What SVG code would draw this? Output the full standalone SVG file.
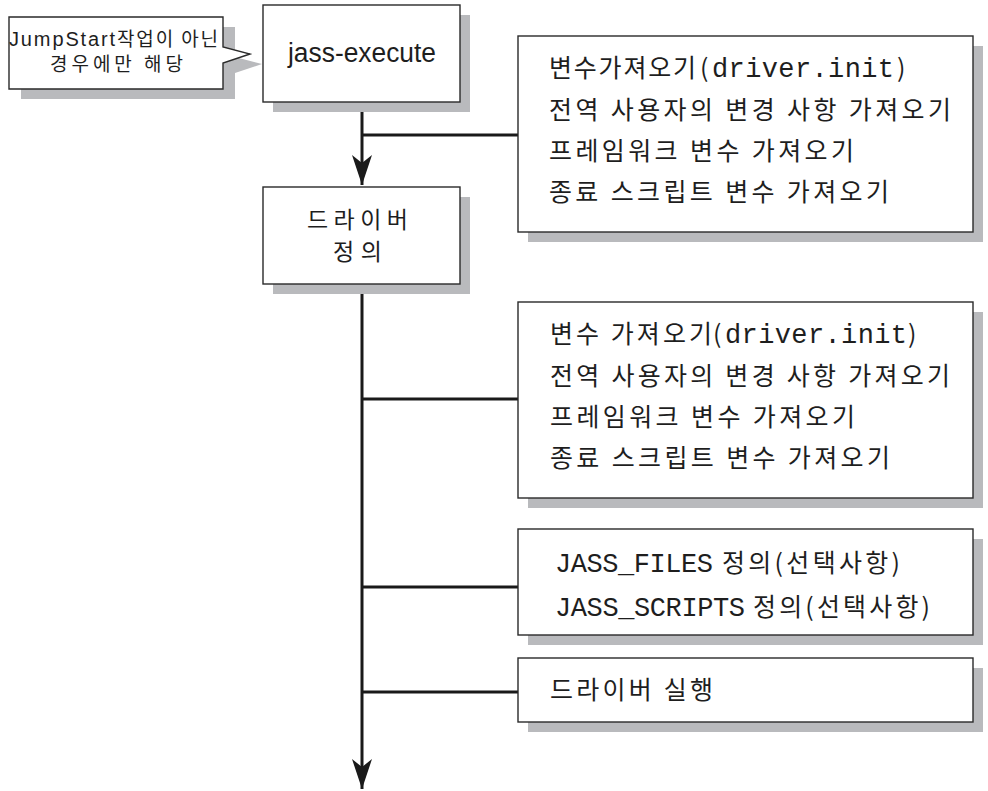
<svg xmlns="http://www.w3.org/2000/svg" width="988" height="791" viewBox="0 0 988 791">
<defs>
<style>
.shadow{fill:#b9babd;stroke:none}
.box{fill:#fff;stroke:#2a2a2a;stroke-width:1.4}
.conn{stroke:#1a1a1a;stroke-width:3;fill:none}
.ko{font-family:"Noto Sans CJK KR","Noto Sans",sans-serif;font-size:25px;fill:#1e1e1e}
.mono{font-family:"Liberation Mono",monospace;font-size:27px;fill:#1e1e1e}
.sans{font-family:"Liberation Sans",Arial,sans-serif;fill:#1e1e1e}
</style>
<marker id="arr" viewBox="0 0 30 20" markerUnits="userSpaceOnUse" markerWidth="30" markerHeight="20" refX="30" refY="10" orient="auto">
<path d="M0,0 L30,10 L0,20 L8,10 Z" fill="#1a1a1a"/>
</marker>
</defs>
<rect width="988" height="791" fill="#fff"/>

<g id="connectors">
<line class="conn" x1="362" y1="102" x2="362" y2="185" marker-end="url(#arr)"/>
<line class="conn" x1="362" y1="284" x2="362" y2="789" marker-end="url(#arr)"/>
<line class="conn" x1="362" y1="135" x2="518" y2="135"/>
<line class="conn" x1="362" y1="399" x2="518" y2="399"/>
<line class="conn" x1="362" y1="587" x2="518" y2="587"/>
<line class="conn" x1="362" y1="692" x2="518" y2="692"/>
</g>

<g id="callout">
<path class="shadow" d="M21,27 L235,27 L235,57 L262,64 L235,73 L235,99 L21,99 Z"/>
<path class="box" d="M9,17 L223,17 L223,47 L250,54 L223,63 L223,89 L9,89 Z"/>
<text class="ko" style="font-size:19px" x="9" y="46" textLength="209"><tspan class="sans" style="font-size:20px">JumpStart</tspan>작업이 아닌</text>
<text class="ko" style="font-size:19px" x="50" y="71" textLength="133">경우에만 해당</text>
</g>

<g id="jass-execute">
<rect class="shadow" x="273" y="15" width="197" height="97"/>
<rect class="box" x="263" y="5" width="197" height="97"/>
<text class="sans" x="288" y="62" font-size="27" textLength="148" lengthAdjust="spacingAndGlyphs">jass-execute</text>
</g>

<g id="driver-define">
<rect class="shadow" x="273" y="197" width="197" height="97"/>
<rect class="box" x="263" y="187" width="197" height="97"/>
<text class="ko" style="font-size:23px" x="307" y="228" textLength="101">드라이버</text>
<text class="ko" style="font-size:23px" x="333" y="260" textLength="49">정의</text>
</g>

<g id="vars-top">
<rect class="shadow" x="528" y="46" width="455" height="196"/>
<rect class="box" x="518" y="36" width="455" height="196"/>
<text class="ko" x="549" y="77" textLength="147">변수가져오기</text>
<text class="ko" x="700" y="77">(</text>
<text class="mono" x="712" y="77" textLength="182">driver.init</text>
<text class="ko" x="897" y="77">)</text>
<text class="ko" x="549" y="119" textLength="402">전역 사용자의 변경 사항 가져오기</text>
<text class="ko" x="549" y="160" textLength="305">프레임워크 변수 가져오기</text>
<text class="ko" x="549" y="201" textLength="340">종료 스크립트 변수 가져오기</text>
</g>

<g id="vars-mid">
<rect class="shadow" x="528" y="312" width="455" height="196"/>
<rect class="box" x="518" y="302" width="455" height="196"/>
<text class="ko" x="550" y="343" textLength="162">변수 가져오기</text>
<text class="ko" x="713" y="343">(</text>
<text class="mono" x="725" y="343" textLength="182">driver.init</text>
<text class="ko" x="908" y="343">)</text>
<text class="ko" x="550" y="385" textLength="400">전역 사용자의 변경 사항 가져오기</text>
<text class="ko" x="550" y="426" textLength="305">프레임워크 변수 가져오기</text>
<text class="ko" x="550" y="467" textLength="340">종료 스크립트 변수 가져오기</text>
</g>

<g id="jass-files">
<rect class="shadow" x="528" y="539" width="455" height="106"/>
<rect class="box" x="518" y="529" width="455" height="106"/>
<text class="mono" x="555" y="572" textLength="158">JASS_FILES</text>
<text class="ko" x="722" y="572" textLength="178">정의(선택사항)</text>
<text class="mono" x="555" y="616" textLength="190">JASS_SCRIPTS</text>
<text class="ko" x="753" y="616" textLength="177">정의(선택사항)</text>
</g>

<g id="driver-run">
<rect class="shadow" x="528" y="668" width="455" height="64"/>
<rect class="box" x="518" y="658" width="455" height="64"/>
<text class="ko" x="550" y="699" textLength="163">드라이버 실행</text>
</g>
</svg>
